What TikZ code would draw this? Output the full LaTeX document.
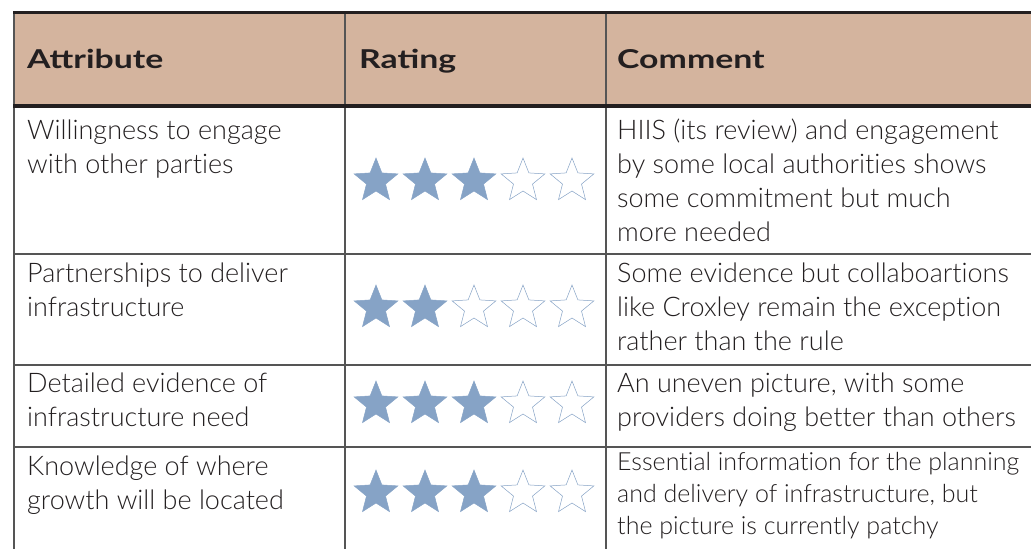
\documentclass[tikz,border=0pt]{standalone}
\usepackage{fontspec}
\IfFontExistsTF{Lato Light}{\setmainfont{Lato Light}[Ligatures=NoCommon]}{\setmainfont{Lato}[Ligatures=NoCommon]}
\IfFontExistsTF{Lato Black}{\newfontfamily\hdrfont{Lato Black}[FakeStretch=1.3]}{\newfontfamily\hdrfont{Lato}[FakeStretch=1.3]}
\usetikzlibrary{shapes.geometric}

\definecolor{hdrtan}{RGB}{212,180,158}
\definecolor{starblue}{RGB}{134,163,198}
\definecolor{gridgray}{RGB}{85,85,85}
\definecolor{textdark}{RGB}{35,31,32}

% base anchor of a multi-line cell = baseline of its last line
\tikzset{
  hdr/.style={anchor=base west, inner sep=0pt, text=textdark, font=\hdrfont\bfseries\fontsize{26}{30}\selectfont},
  cell/.style={anchor=base west, align=left, inner sep=0pt, text=textdark, font=\fontsize{27}{34}\selectfont},
  smallcell/.style={cell, font=\fontsize{25}{32}\selectfont},
  fullstar/.style={star, star points=5, star point ratio=2.3, minimum size=46pt, inner sep=0pt, fill=starblue, draw=starblue, line width=0.5pt},
  emptystar/.style={fullstar, fill=white},
  rule/.style={gridgray, line width=1.8pt},
}

\begin{document}
\begin{tikzpicture}[x=1pt, y=-1pt]
\useasboundingbox (0,0) rectangle (1031,549);

% header band and grid
\fill[hdrtan] (14,12) rectangle (1031,106);
\draw[rule] (14,12) -- (14,549);
\draw[rule] (345,12) -- (345,549);
\draw[rule] (606,12) -- (606,549);
\foreach \y in {254,365,447}
  \draw[rule] (14,\y) -- (1031,\y);
\draw[textdark, line width=3pt] (13,12) -- (1031,12);
\draw[textdark, line width=4pt] (13,106) -- (1031,106);

% header
\node[hdr] (hattr) at (27,68) {Attribute};
\node[hdr] (hrate) at (359,68) {Rating};
\node[hdr] (hcomm) at (617,68) {Comment};

% attributes
\node[cell] (attr1) at (27,173) {Willingness to engage\\with other parties};
\node[cell] (attr2) at (27,316) {Partnerships to deliver\\infrastructure};
\node[cell] (attr3) at (27,426) {Detailed evidence of\\infrastructure need};
\node[cell] (attr4) at (27,509) {Knowledge of where\\growth will be located};

% comments
\node[cell] (comm1) at (617,241) {HIIS (its review) and engagement\\by some local authorities shows\\some commitment but much\\more needed};
\node[cell] (comm2) at (617,350) {Some evidence but collaboartions\\like Croxley remain the exception\\rather than the rule};
\node[cell] (comm3) at (617,426) {An uneven picture, with some\\providers doing better than others};
\node[smallcell] (comm4) at (617,534) {Essential information for the planning\\and delivery of infrastructure, but\\the picture is currently patchy};

% ratings
\foreach \r/\y/\n in {1/181/3, 2/308/2, 3/404/3, 4/493/3} {
  \foreach \i in {1,...,5} {
    \ifnum\i>\n
      \node[emptystar] (s\r\i) at ({327+49*\i},\y) {};
    \else
      \node[fullstar] (s\r\i) at ({327+49*\i},\y) {};
    \fi
  }
}
\end{tikzpicture}
\end{document}
